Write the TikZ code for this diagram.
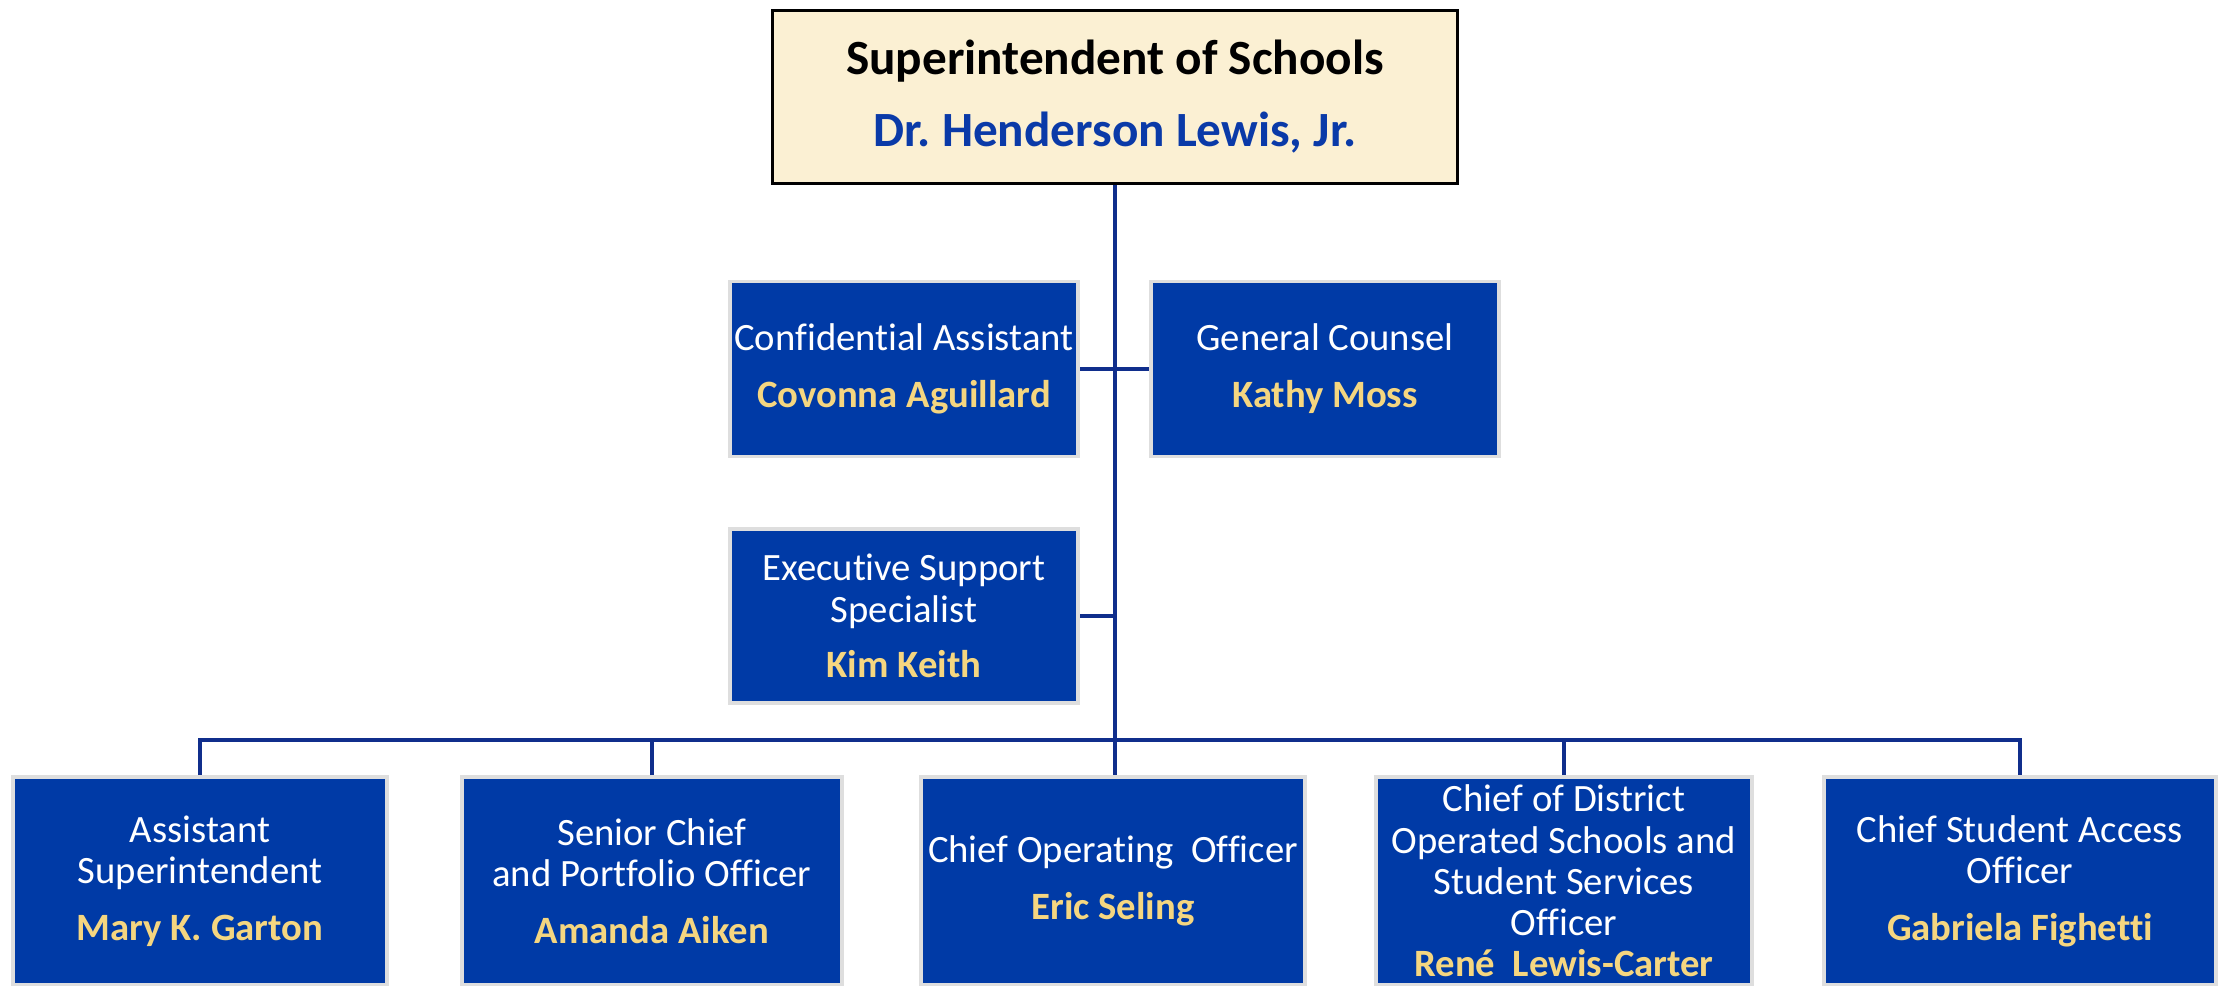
\documentclass[tikz,border=0pt]{standalone}
\usepackage{fontspec}
\setmainfont{Carlito}[Ligatures=NoCommon]
\usetikzlibrary{positioning}
\frenchspacing

\definecolor{navy}{RGB}{16,46,140}
\definecolor{boxblue}{RGB}{0,58,166}
\definecolor{gold}{RGB}{245,214,128}
\definecolor{cream}{RGB}{251,240,211}
\definecolor{rim}{RGB}{222,222,222}
\definecolor{nameblue}{RGB}{10,58,168}

\tikzset{
  chief/.style={draw=black, line width=0.8pt, fill=cream, minimum width=6.84cm, minimum height=1.73cm,
    align=center, inner sep=0pt, font=\fontsize{14}{17}\selectfont\bfseries},
  post/.style={draw=rim, line width=1.1pt, fill=boxblue, text=white, align=center, inner sep=0pt,
    minimum width=3.48cm, minimum height=1.75cm, font=\fontsize{11}{11.7}\selectfont},
  lower/.style={post, minimum width=3.8cm, minimum height=2.08cm},
  link/.style={draw=navy, line width=1.2pt},
}
\newcommand{\who}[1]{\textbf{\textcolor{gold}{#1}}}

\begin{document}
\begin{tikzpicture}[x=0.01cm, y=-0.01cm]
  \useasboundingbox (0,0) rectangle (2224,986);

  % top
  \node[chief] (super) at (1115,97) {Superintendent of Schools\\[3.5pt] \textcolor{nameblue}{Dr. Henderson Lewis, Jr.}};

  % staff
  \node[post] (conf) at (904,369) {Confidential Assistant\\[4.5pt] \who{Covonna Aguillard}};
  \node[post] (counsel) at (1325,369) {General Counsel\\[4.5pt] \who{Kathy Moss}};
  \node[post, minimum height=1.74cm] (exec) at (904,616) {Executive Support\\Specialist\\[4pt] \who{Kim Keith}};

  % chiefs
  \node[lower, minimum width=3.73cm] (mary) at (200,881) {Assistant\\Superintendent\\[4.5pt] \who{Mary K. Garton}};
  \node[lower] (senior) at (652,881) {Senior Chief\\and Portfolio Officer\\[4.5pt] \who{Amanda Aiken}};
  \node[lower, minimum width=3.83cm] (coo) at (1113,881) {Chief Operating~ Officer\\[4.5pt] \who{Eric Seling}};
  \node[lower, minimum width=3.75cm] (rene) at (1564,881) {Chief of District\\Operated Schools and\\Student Services\\Officer\\ \who{René~ Lewis-Carter}};
  \node[lower, minimum width=3.91cm] (gabriela) at (2020,881) {Chief Student Access\\Officer\\[4.5pt] \who{Gabriela Fighetti}};

  \coordinate (hub) at (1115,740);

  \draw[link] (super.south) -- (hub);
  \draw[link] (conf.east) -- (counsel.west);
  \draw[link] (exec.east) -- (exec.east -| hub);
  \draw[link] (mary.north) |- (hub) -| (gabriela.north);
  \draw[link] (senior.north) -- (senior.north |- hub);
  \draw[link] (hub) -- (hub |- coo.north);
  \draw[link] (rene.north) -- (rene.north |- hub);
\end{tikzpicture}
\end{document}
